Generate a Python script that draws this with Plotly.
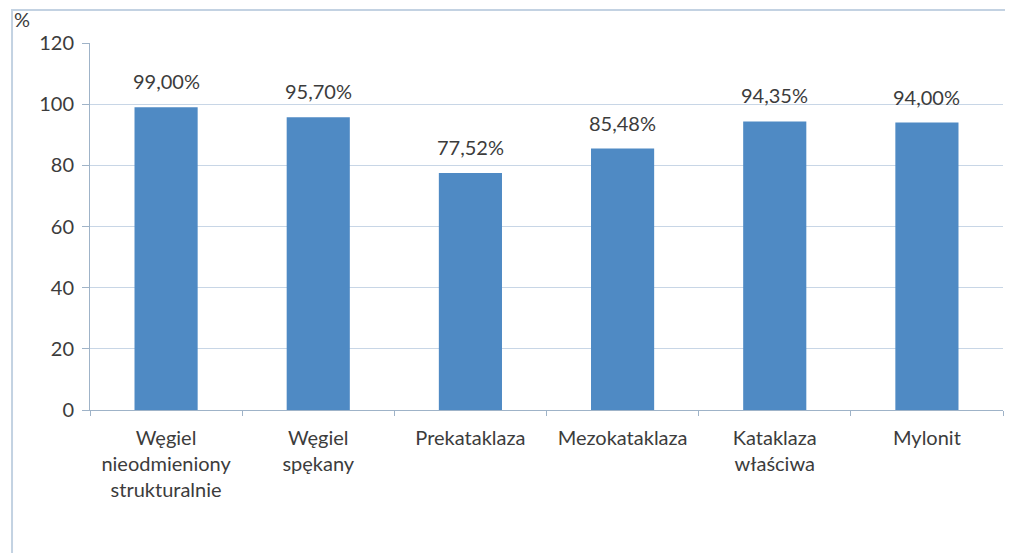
import plotly.graph_objects as go

# data
categories = ["Węgiel<br>nieodmieniony<br>strukturalnie", "Węgiel<br>spękany", "Prekataklaza",
              "Mezokataklaza", "Kataklaza<br>właściwa", "Mylonit"]
values = [99.00, 95.70, 77.52, 85.48, 94.35, 94.00]
labels = ["99,00%", "95,70%", "77,52%", "85,48%", "94,35%", "94,00%"]
y_ticks = [0, 20, 40, 60, 80, 100, 120]

font_family = "Lato, Open Sans, sans-serif"
text_col = "#3c3c3c"
grid_col = "#c8d6e6"
fsize = 20

fig = go.Figure()
fig.add_trace(go.Bar(
    x=categories,
    y=values,
    marker=dict(color="#4f8ac4", line=dict(width=0)),
))

# value labels above bars
for c, v, t in zip(categories, values, labels):
    fig.add_annotation(x=c, y=v, text=t, showarrow=False, yanchor="bottom",
                       yshift=12, font=dict(size=fsize, color=text_col))

# page body has an 8px margin, so the figure is a bit smaller than the window
fig.update_layout(
    width=1005,
    height=545,
    margin=dict(l=82, r=10, t=35, b=143, autoexpand=False),
    paper_bgcolor="white",
    plot_bgcolor="white",
    bargap=0.585,
    showlegend=False,
    font=dict(family=font_family, size=fsize, color=text_col),
    xaxis=dict(
        showline=True, linecolor="#9fb3c8", linewidth=1,
        ticks="outside", tickson="boundaries", ticklen=5, tickcolor="#9fb3c8",
        ticklabelstandoff=10,
        tickfont=dict(size=fsize, color=text_col),
    ),
    yaxis=dict(
        range=[0, 120], tickvals=y_ticks,
        showgrid=True, gridcolor=grid_col, gridwidth=1,
        showline=True, linecolor="#9fb3c8", linewidth=1,
        ticks="outside", ticklen=7, tickcolor="#9fb3c8",
        ticklabelstandoff=4,
        tickfont=dict(size=fsize, color=text_col),
        zeroline=False,
    ),
)

# "%" unit label at top-left
fig.add_annotation(text="%", xref="paper", yref="paper", x=-0.075, y=1.065,
                   showarrow=False, xanchor="center", yanchor="middle",
                   font=dict(size=fsize, color=text_col))

# outer chart frame
fig.add_shape(type="rect", xref="paper", yref="paper",
              x0=-0.0854, x1=1.0077, y0=-0.6, y1=1.09,
              line=dict(color="#c3d2e2", width=2), layer="below")

fig.write_html("out.html")
